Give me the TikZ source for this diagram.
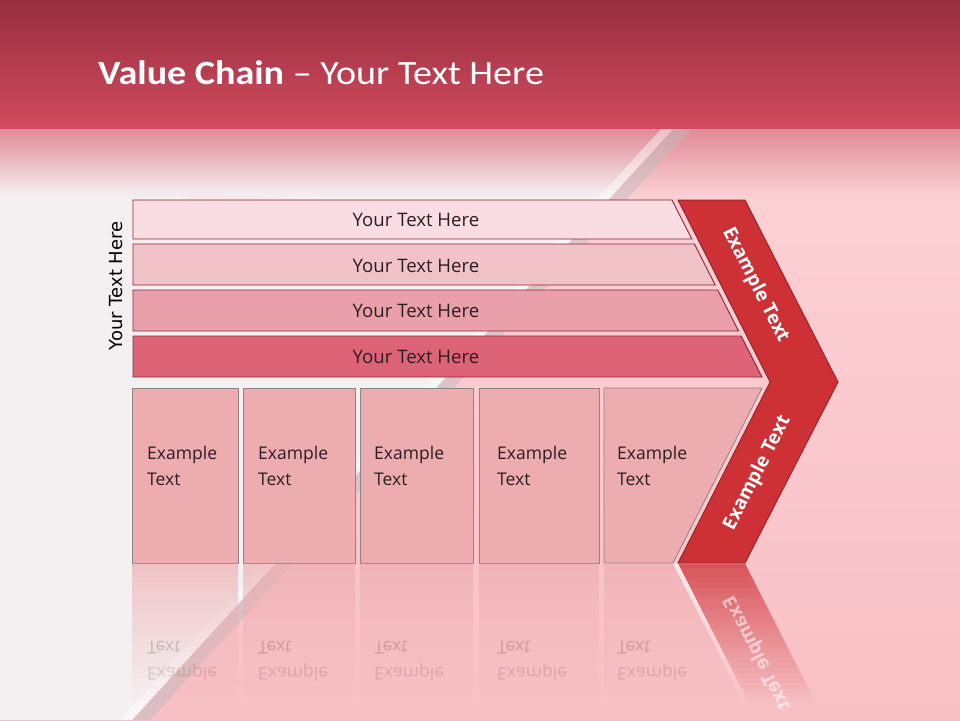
\documentclass[tikz,border=0pt]{standalone}
\usepackage{fontspec}
\setmainfont{Open Sans}
\newfontfamily\titlefont{Carlito}
\newfontfamily\vertfont{DejaVu Sans}
\definecolor{topdark}{HTML}{962F3F}
\definecolor{topmid}{HTML}{D24A5E}
\definecolor{fadecol}{HTML}{E08A96}
\definecolor{bgpinktop}{HTML}{FBD0D5}
\definecolor{bgpinkbot}{HTML}{F8C0C5}
\definecolor{bgwhite}{HTML}{F4F0F2}
\definecolor{stripegray}{HTML}{C4BBC0}
\definecolor{barone}{HTML}{F9DDE2}
\definecolor{bartwo}{HTML}{F2C2C9}
\definecolor{barthree}{HTML}{E9A0AA}
\definecolor{barfour}{HTML}{DD6476}
\definecolor{barborder}{HTML}{8E2332}
\definecolor{boxfill}{HTML}{EDADB0}
\definecolor{boxborder}{HTML}{8C8586}
\definecolor{chevfill}{HTML}{CD3035}
\definecolor{chevborder}{HTML}{8A1E22}
\definecolor{txtdark}{HTML}{2A1E22}
\definecolor{reftxtcol}{HTML}{6A4448}
\newcommand\reflstrips[2]{%
  \foreach \i [evaluate=\i as \op using {#2*(1-\i/28)}] in {0,...,27}{
    \fill[#1, opacity=\op] (0,563+5*\i) rectangle (960,568+5*\i);
  }}
\begin{document}
\begin{tikzpicture}[x=1pt,y=-1pt,
  barshape/.style={draw=barborder, line width=0.9pt},
  boxshape/.style={draw=boxborder, fill=boxfill, line width=0.8pt},
  chevshape/.style={draw=chevborder, fill=chevfill, line width=0.8pt},
  bartxt/.style={anchor=base, inner sep=0pt, text=txtdark, font=\fontsize{18.6}{22}\selectfont},
  boxtxt/.style={anchor=base west, inner sep=0pt, text=txtdark, font=\fontsize{17.5}{22}\selectfont},
  reftxt/.style={anchor=base west, inner sep=0pt, text=reftxtcol, font=\fontsize{17.5}{22}\selectfont},
  chevtxt/.style={inner sep=0pt, text=white, font=\bfseries\fontsize{19}{22}\selectfont}
]
\useasboundingbox (0,0) rectangle (960,720);
% ---------- background ----------
\shade[top color=bgpinktop, bottom color=bgpinkbot] (0,196) rectangle (960,720);
\shade[top color=fadecol, bottom color=bgpinktop] (0,128) rectangle (960,196);
\begin{scope}
  \clip (0,128) -- (674,128) -- (132,720) -- (0,720) -- cycle;
  \fill[bgwhite] (0,196) rectangle (700,720);
  \shade[top color=fadecol, bottom color=bgwhite] (0,128) rectangle (700,196.5);
\end{scope}
\fill[stripegray, opacity=0.5] (674,128) -- (692,128) -- (150,720) -- (132,720) -- cycle;
\fill[white, opacity=0.45] (662,128) -- (674,128) -- (132,720) -- (120,720) -- cycle;
\shade[top color=topdark, bottom color=topmid] (0,0) rectangle (960,128);
\fill[barone!70!white, opacity=0.8] (178,194) -- (330,199) -- (190,200) -- cycle;
% ---------- title ----------
\node[anchor=base west, inner sep=0pt, text=white, font=\titlefont\fontsize{34}{40}\selectfont] (title) at (98,84) {\scalebox{1.12}[1]{\textbf{Value Chain} – Your Text Here}};
% ---------- vertical label ----------
\node[rotate=90, anchor=base, inner sep=0pt, text=black, font=\vertfont\fontsize{18}{22}\selectfont] (vlabel) at (122,286) {Your Text Here};
% ---------- bars ----------
\draw[barshape, fill=barone]   (133,200) -- (672,200) -- (691.8,239) -- (133,239) -- cycle;
\draw[barshape, fill=bartwo]   (133,244) -- (694.4,244) -- (715.2,285) -- (133,285) -- cycle;
\draw[barshape, fill=barthree] (133,290) -- (717.7,290) -- (738.5,331) -- (133,331) -- cycle;
\draw[barshape, fill=barfour]  (133,336) -- (741.1,336) -- (762,377) -- (133,377) -- cycle;
\node[bartxt] (b1) at (416,226) {Your Text Here};
\node[bartxt] (b2) at (416,272) {Your Text Here};
\node[bartxt] (b3) at (416,317) {Your Text Here};
\node[bartxt] (b4) at (416,363) {Your Text Here};
% ---------- chevron ----------
\draw[chevshape] (678,200) -- (745,200) -- (838,382) -- (745,563) -- (678,563) -- (770,382) -- cycle;
\node[chevtxt, rotate=-63] (c1) at (755.5,285) {Example Text};
\node[chevtxt, rotate=63] (c2) at (757.5,473) {Example Text};
% ---------- boxes ----------
\draw[boxshape] (132,388) rectangle (238,563);
\draw[boxshape] (243,388) rectangle (355,563);
\draw[boxshape] (360,388) rectangle (473,563);
\draw[boxshape] (479,388) rectangle (599,563);
\draw[boxshape] (604,388) -- (762,388) -- (673,563) -- (604,563) -- cycle;
\foreach \x/\n in {147/1,258/2,374/3,497/4,617/5}{
  \node[boxtxt] (e\n) at (\x,459) {Example};
  \node[boxtxt] (t\n) at (\x,485) {Text};
}
% ---------- reflection ----------
\begin{scope}
  \clip (132,563.5) rectangle (238,705) (243,563.5) rectangle (355,705)
        (360,563.5) rectangle (473,705) (479,563.5) rectangle (599,705)
        (604,563.5) -- (673,563.5) -- (745,705) -- (604,705) -- cycle;
  \reflstrips{boxfill}{0.65}
\end{scope}
\begin{scope}
  \clip (678,563.5) -- (745,563.5) -- (817,705) -- (750,705) -- cycle;
  \reflstrips{chevfill}{0.75}
\end{scope}
\begin{scope}
  \clip (673,563.5) -- (678,563.5) -- (750,705) -- (745,705) -- cycle;
  \reflstrips{white}{0.6}
\end{scope}
\foreach \x/\n in {147/1,258/2,374/3,497/4,617/5}{
  \node[reftxt, opacity=0.28] (rt\n) at (\x,641) {\scalebox{1}[-1]{Text}};
  \node[reftxt, opacity=0.2] (re\n) at (\x,667) {\scalebox{1}[-1]{Example}};
}
\node[chevtxt, rotate=-63, opacity=0.55] (rc) at (757.5,653) {\scalebox{1}[-1]{Example Text}};
\end{tikzpicture}
\end{document}
